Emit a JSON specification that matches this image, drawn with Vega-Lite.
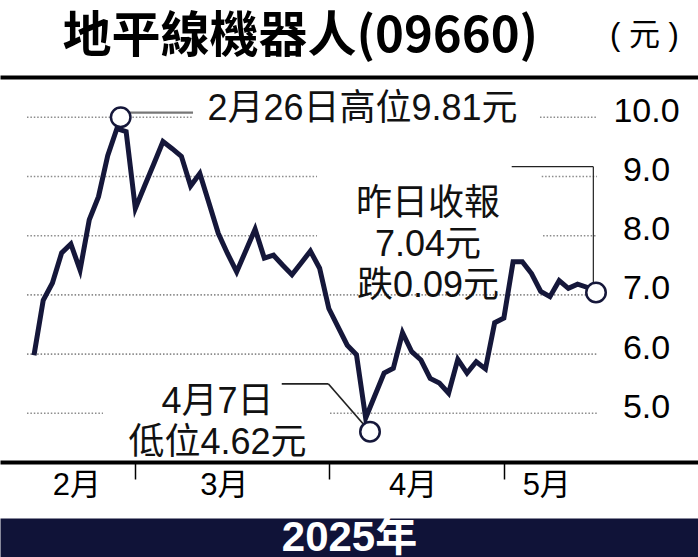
{
  "$schema": "https://vega.github.io/schema/vega-lite/v6.json",
  "width": 698,
  "height": 385,
  "autosize": "none",
  "padding": {"top": 77, "bottom": 95, "left": 0, "right": 0},
  "background": "white",
  "config": {
    "view": {"stroke": null},
    "font": "Liberation Sans, Noto Sans CJK TC"
  },
  "datasets": {
    "prices": [
      {"date": "2025-02-13", "t": 1, "close": 5.98},
      {"date": "2025-02-14", "t": 2, "close": 6.91},
      {"date": "2025-02-17", "t": 3, "close": 7.20},
      {"date": "2025-02-18", "t": 4, "close": 7.71},
      {"date": "2025-02-19", "t": 5, "close": 7.86},
      {"date": "2025-02-20", "t": 6, "close": 7.42},
      {"date": "2025-02-21", "t": 7, "close": 8.27},
      {"date": "2025-02-24", "t": 8, "close": 8.66},
      {"date": "2025-02-25", "t": 9, "close": 9.35},
      {"date": "2025-02-26", "t": 10, "close": 9.81},
      {"date": "2025-02-27", "t": 11, "close": 9.76},
      {"date": "2025-02-28", "t": 12, "close": 8.46},
      {"date": "2025-03-03", "t": 13, "close": 8.84},
      {"date": "2025-03-04", "t": 14, "close": 9.21},
      {"date": "2025-03-05", "t": 15, "close": 9.59},
      {"date": "2025-03-06", "t": 16, "close": 9.47},
      {"date": "2025-03-07", "t": 17, "close": 9.34},
      {"date": "2025-03-10", "t": 18, "close": 8.84},
      {"date": "2025-03-11", "t": 19, "close": 9.05},
      {"date": "2025-03-12", "t": 20, "close": 8.55},
      {"date": "2025-03-13", "t": 21, "close": 8.04},
      {"date": "2025-03-14", "t": 22, "close": 7.70},
      {"date": "2025-03-17", "t": 23, "close": 7.39},
      {"date": "2025-03-18", "t": 24, "close": 7.75},
      {"date": "2025-03-19", "t": 25, "close": 8.11},
      {"date": "2025-03-20", "t": 26, "close": 7.62},
      {"date": "2025-03-21", "t": 27, "close": 7.67},
      {"date": "2025-03-24", "t": 28, "close": 7.50},
      {"date": "2025-03-25", "t": 29, "close": 7.34},
      {"date": "2025-03-26", "t": 30, "close": 7.54},
      {"date": "2025-03-27", "t": 31, "close": 7.74},
      {"date": "2025-03-28", "t": 32, "close": 7.45},
      {"date": "2025-03-31", "t": 33, "close": 6.77},
      {"date": "2025-04-01", "t": 34, "close": 6.46},
      {"date": "2025-04-02", "t": 35, "close": 6.15},
      {"date": "2025-04-03", "t": 36, "close": 5.99},
      {"date": "2025-04-07", "t": 37, "close": 4.92},
      {"date": "2025-04-08", "t": 38, "close": 5.30},
      {"date": "2025-04-09", "t": 39, "close": 5.68},
      {"date": "2025-04-10", "t": 40, "close": 5.76},
      {"date": "2025-04-11", "t": 41, "close": 6.36},
      {"date": "2025-04-14", "t": 42, "close": 6.04},
      {"date": "2025-04-15", "t": 43, "close": 5.90},
      {"date": "2025-04-16", "t": 44, "close": 5.59},
      {"date": "2025-04-17", "t": 45, "close": 5.51},
      {"date": "2025-04-22", "t": 46, "close": 5.34},
      {"date": "2025-04-23", "t": 47, "close": 5.91},
      {"date": "2025-04-24", "t": 48, "close": 5.68},
      {"date": "2025-04-25", "t": 49, "close": 5.87},
      {"date": "2025-04-28", "t": 50, "close": 5.75},
      {"date": "2025-04-29", "t": 51, "close": 6.53},
      {"date": "2025-04-30", "t": 52, "close": 6.61},
      {"date": "2025-05-02", "t": 53, "close": 7.56},
      {"date": "2025-05-06", "t": 54, "close": 7.56},
      {"date": "2025-05-07", "t": 55, "close": 7.36},
      {"date": "2025-05-08", "t": 56, "close": 7.06},
      {"date": "2025-05-09", "t": 57, "close": 6.97},
      {"date": "2025-05-12", "t": 58, "close": 7.24},
      {"date": "2025-05-13", "t": 59, "close": 7.11},
      {"date": "2025-05-14", "t": 60, "close": 7.18},
      {"date": "2025-05-15", "t": 61, "close": 7.13},
      {"date": "2025-05-16", "t": 62, "close": 7.04}
    ],
    "grid": [
      {"v": 10, "t0": 0.24, "t1": 18.26},
      {"v": 10, "t0": 55.92, "t1": 62.11},
      {"v": 9, "t0": 0.24, "t1": 31.72},
      {"v": 9, "t0": 56.11, "t1": 62.11},
      {"v": 8, "t0": 0.24, "t1": 31.72},
      {"v": 8, "t0": 56.25, "t1": 62.11},
      {"v": 7, "t0": 0.24, "t1": 62.11},
      {"v": 6, "t0": 0.24, "t1": 62.11},
      {"v": 5, "t0": 0.24, "t1": 8.49},
      {"v": 5, "t0": 33.13, "t1": 62.11}
    ],
    "leaders": [
      {"note": "high", "t": 10.41, "t2": 18.26, "v": 10.078, "v2": 10.078},
      {"note": "low", "t": 27.89, "t2": 32.94, "v": 5.498, "v2": 5.498},
      {"note": "low", "t": 32.94, "t2": 37.47, "v": 5.498, "v2": 4.689},
      {"note": "close", "t": 52.85, "t2": 61.71, "v": 9.166, "v2": 9.166},
      {"note": "close", "t": 61.71, "t2": 61.71, "v": 9.166, "v2": 7.05}
    ],
    "markers": [
      {"note": "high", "t": 10.41, "v": 10.0},
      {"note": "low", "t": 37.47, "v": 4.69},
      {"note": "close", "t": 62, "v": 7.04}
    ],
    "notes": [
      {"note": "high", "t": 36.66, "v": 10.132, "text": "2月26日高位9.81元"},
      {"note": "low", "t": 20.92, "v": 5.196, "text": "4月7日\n低位4.62元"},
      {"note": "close", "t": 43.77, "v": 8.535, "text": "昨日收報\n7.04元\n跌0.09元"}
    ]
  },
  "resolve": {"axis": {"x": "independent"}},
  "layer": [
    {
      "data": {"name": "grid"},
      "mark": {"type": "rule", "color": "#8c8c8c", "strokeWidth": 1.6, "strokeDash": [1.5, 1.9]},
      "encoding": {
        "x": {
          "field": "t0", "type": "quantitative",
          "scale": {"domain": [-2.69, 73.07], "nice": false, "zero": false},
          "axis": {
            "orient": "top", "labels": false, "ticks": false, "grid": false,
            "domainColor": "black", "domainWidth": 4,
            "title": "地平線機器人(09660)", "titleX": 62, "titleY": -26,
            "titleAlign": "left", "titleBaseline": "alphabetic", "titleAnchor": null,
            "titleFont": "Noto Sans CJK TC", "titleFontSize": 49, "titleFontWeight": "bold", "titleColor": "black"
          }
        },
        "x2": {"field": "t1"},
        "y": {"field": "v", "type": "quantitative", "scale": {"domain": [4.177, 10.681], "nice": false, "zero": false}}
      }
    },
    {
      "data": {"name": "prices"},
      "mark": {"type": "line", "color": "#15173a", "strokeWidth": 5, "strokeJoin": "miter"},
      "encoding": {
        "x": {
          "field": "t", "type": "quantitative",
          "scale": {"domain": [-2.69, 73.07], "nice": false, "zero": false},
          "axis": {
            "orient": "bottom", "values": [5.6, 12, 21.6, 33, 42.1, 52, 56.6],
            "labelExpr": "datum.value == 5.6 ? '2月' : datum.value == 21.6 ? '3月' : datum.value == 42.1 ? '4月' : datum.value == 56.6 ? '5月' : ''",
            "domainColor": "black", "domainWidth": 4,
            "tickColor": "black", "tickWidth": 1.5, "tickSize": 17,
            "tickOpacity": {"condition": {"test": "datum.value % 1 === 0", "value": 1}, "value": 0},
            "labelFontSize": 31, "labelColor": "black", "labelBaseline": "middle", "labelPadding": 6,
            "labelOverlap": false, "labelBound": false, "labelFlush": false,
            "grid": false, "title": null
          }
        },
        "y": {
          "field": "close", "type": "quantitative",
          "scale": {"domain": [4.177, 10.681], "nice": false, "zero": false},
          "axis": {
            "orient": "right", "values": [5, 6, 7, 8, 9, 10], "format": ".1f",
            "ticks": false, "domain": false, "grid": false,
            "labelAlign": "center", "labelBaseline": "middle", "labelPadding": -52, "labelOffset": -6,
            "labelFontSize": 34, "labelColor": "black", "labelBound": false, "labelFlush": false, "labelOverlap": false,
            "title": "( 元 )", "titleAngle": 0, "titleX": -54, "titleY": -42,
            "titleAlign": "center", "titleBaseline": "middle",
            "titleFontSize": 31, "titleFontWeight": "normal", "titleColor": "black"
          }
        }
      }
    },
    {
      "data": {"name": "leaders"},
      "mark": {"type": "rule"},
      "encoding": {
        "x": {
          "field": "t", "type": "quantitative",
          "scale": {"domain": [-2.69, 73.07], "nice": false, "zero": false},
          "axis": {
            "orient": "bottom", "offset": 75.5, "labels": false, "ticks": false, "grid": false,
            "domainColor": "#101338", "domainWidth": 39,
            "title": "2025年", "titleX": 349, "titleY": 0, "titleAnchor": null,
            "titleAlign": "center", "titleBaseline": "middle",
            "titleColor": "white", "titleFontSize": 42, "titleFontWeight": "bold"
          }
        },
        "x2": {"field": "t2"},
        "y": {"field": "v", "type": "quantitative", "scale": {"domain": [4.177, 10.681], "nice": false, "zero": false}},
        "y2": {"field": "v2"},
        "color": {"field": "note", "type": "nominal", "scale": {"domain": ["high", "low", "close"], "range": ["#777777", "#222222", "#222222"]}, "legend": null},
        "strokeWidth": {"field": "note", "type": "nominal", "scale": {"domain": ["high", "low", "close"], "range": [2.2, 1.2, 1.3]}, "legend": null}
      }
    },
    {
      "data": {"name": "markers"},
      "mark": {"type": "point", "shape": "circle", "filled": true, "fill": "white", "stroke": "#15173a", "strokeWidth": 2.5, "size": 380, "opacity": 1},
      "encoding": {
        "x": {"field": "t", "type": "quantitative", "scale": {"domain": [-2.69, 73.07], "nice": false, "zero": false}, "axis": null},
        "y": {"field": "v", "type": "quantitative", "scale": {"domain": [4.177, 10.681], "nice": false, "zero": false}}
      }
    },
    {
      "data": {"name": "notes"},
      "mark": {"type": "text", "align": "center", "baseline": "middle", "fontSize": 36, "lineBreak": "\n", "lineHeight": 41, "color": "#111111"},
      "encoding": {
        "x": {"field": "t", "type": "quantitative", "scale": {"domain": [-2.69, 73.07], "nice": false, "zero": false}, "axis": null},
        "y": {"field": "v", "type": "quantitative", "scale": {"domain": [4.177, 10.681], "nice": false, "zero": false}},
        "text": {"field": "text", "type": "nominal"}
      }
    }
  ]
}
